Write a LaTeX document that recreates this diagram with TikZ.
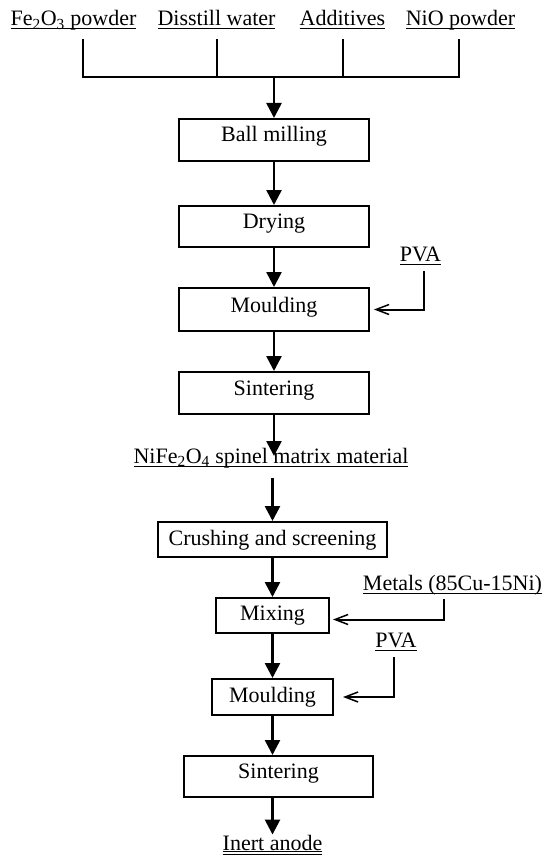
\documentclass[tikz,border=0pt]{standalone}
\usepackage{fontspec}
\setmainfont{Liberation Serif}
\usetikzlibrary{arrows.meta}
\newcommand{\ulin}[1]{\setbox0=\hbox{#1}\rlap{\rule[-3.5pt]{\wd0}{1pt}}\box0}
\newcommand{\dulin}[1]{\setbox0=\hbox{#1}\rlap{\rule[-2pt]{\wd0}{0.9pt}}\rlap{\rule[-5pt]{\wd0}{0.9pt}}\box0}
\begin{document}
\begin{tikzpicture}[x=1pt,y=-1pt,
  pbox/.style={draw,line width=2pt,inner xsep=0pt,inner ysep=0pt,font=\fontsize{22}{26}\selectfont},
  lbl/.style={inner sep=0pt,anchor=base,font=\fontsize{22}{26}\selectfont},
  arr/.style={line width=2.6pt,-{Triangle[length=15pt,width=15pt]}},
  sarr/.style={line width=2pt,-{Straight Barb[length=13pt,width=10pt,line width=1.5pt]}},
  bus/.style={line width=2pt}]
\fill[white] (0,0) rectangle (544,856);
\path[use as bounding box] (0,0) rectangle (544,856);

% top labels
\node[lbl] (fe)  at (73.5,26) {\ulin{Fe\textsubscript{2}O\textsubscript{3} powder}};
\node[lbl] (dw)  at (216.5,26) {\ulin{Disstill water}};
\node[lbl] (add) at (342.5,26) {\ulin{Additives}};
\node[lbl] (nio) at (460.5,26) {\ulin{NiO powder}};

\coordinate (t1) at (83,39);  \coordinate (b1) at (83,77);
\coordinate (t2) at (217,39); \coordinate (b2) at (217,77);
\coordinate (t3) at (343,39); \coordinate (b3) at (343,77);
\coordinate (t4) at (459,39); \coordinate (b4) at (459,77);
\coordinate (bm) at (274,77);

% process boxes
\node[pbox,minimum width=190pt,text height=23pt,text depth=19pt] (ball)  at (274,140)   {Ball milling};
\node[pbox,minimum width=190pt,text height=22pt,text depth=19pt] (dry)   at (274,226.5) {Drying};
\node[pbox,minimum width=190pt,text height=24pt,text depth=19pt] (mould1) at (274,309.5) {Moulding};
\node[pbox,minimum width=190pt,text height=23pt,text depth=19pt] (sint1) at (274,393)   {Sintering};

\node[lbl] (spinel) at (271,463.5) {\ulin{NiFe\textsubscript{2}O\textsubscript{4} spinel matrix material}};
\coordinate (spin) at (274,456);
\coordinate (spout) at (272.5,478);

\node[pbox,minimum width=229pt,text height=23pt,text depth=12pt] (crush) at (272.5,539.5) {Crushing and screening};
\node[pbox,minimum width=113pt,text height=22pt,text depth=13pt] (mix)   at (272.5,615.5) {Mixing};
\node[pbox,minimum width=121pt,text height=23pt,text depth=13pt] (mould2) at (272.5,697)  {Moulding};
\node[pbox,minimum width=189pt,text height=22pt,text depth=19pt] (sint2) at (278.5,776.5) {Sintering};

\node[lbl] (inert) at (272.5,850) {\dulin{Inert anode}};

% side inputs
\node[lbl] (pva1)   at (420.5,261.5) {\ulin{PVA}};
\node[lbl] (metals) at (452.5,590)   {\ulin{Metals (85Cu-15Ni)}};
\node[lbl] (pva2)   at (396,647)     {\ulin{PVA}};
\coordinate (p1) at (424,271);
\coordinate (m1) at (444,599);
\coordinate (p2) at (394,657);

% connectors
\draw[bus] (t1) -- (b1) -- (b4) -- (t4);
\draw[bus] (t2) -- (b2);
\draw[bus] (t3) -- (b3);
\draw[arr] (bm) -- (ball);
\draw[arr] (ball) -- (dry);
\draw[arr] (dry) -- (mould1);
\draw[arr] (mould1) -- (sint1);
\draw[arr] (sint1) -- (spin);
\draw[arr] (spout) -- (crush);
\draw[arr] (crush) -- (mix);
\draw[arr] (mix) -- (mould2);
\draw[arr] (mould2) -- (mould2 |- sint2.north);
\draw[arr] (inert |- sint2.south) -- (inert.north);

\draw[sarr,shorten >=4pt] (p1) |- (mould1.east);
\draw[sarr,shorten >=3pt] (m1) |- ([yshift=-4pt]mix.east);
\draw[sarr,shorten >=9pt] (p2) |- (mould2.east);
\end{tikzpicture}
\end{document}
